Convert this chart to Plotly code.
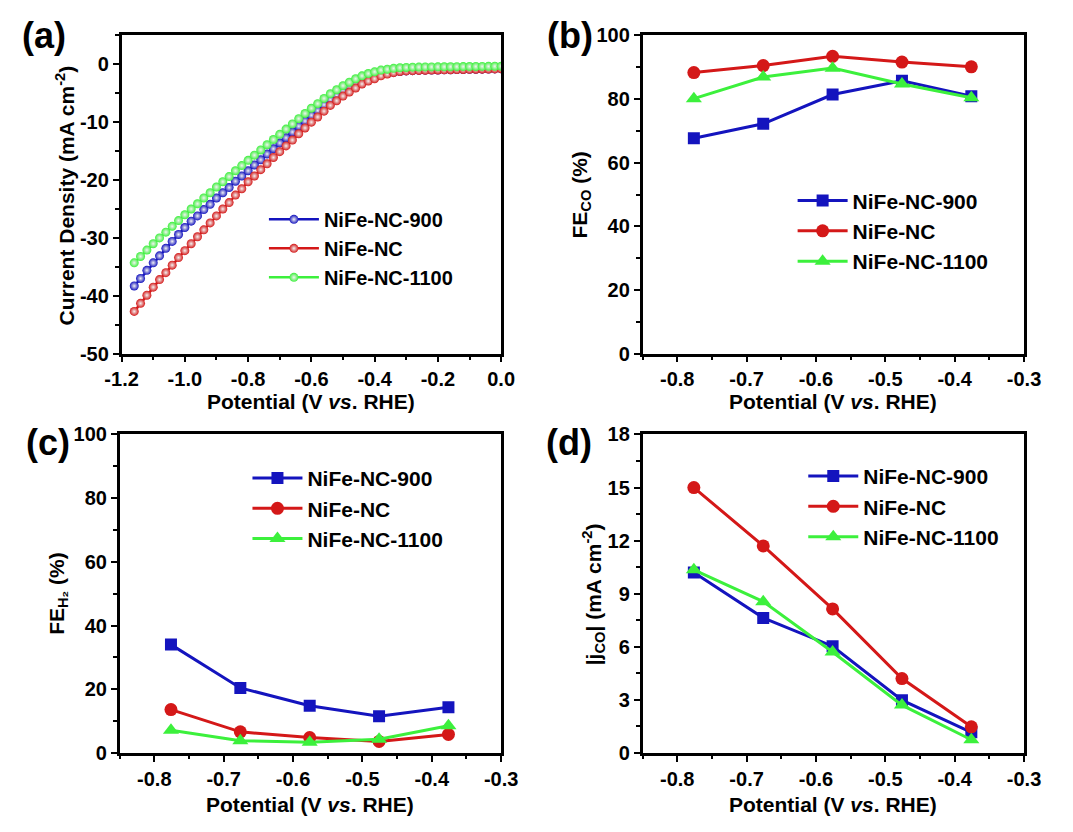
import plotly.graph_objects as go

W, H = 1073, 832
FONT = "Liberation Sans, Arial, sans-serif"

# ---------------- data ----------------
# (a) LSV curves
lsv_potential = [-1.16, -1.14, -1.12, -1.10, -1.08, -1.06, -1.04, -1.02, -1.00, -0.98,
                 -0.96, -0.94, -0.92, -0.90, -0.88, -0.86, -0.84, -0.82, -0.80, -0.78,
                 -0.76, -0.74, -0.72, -0.70, -0.68, -0.66, -0.64, -0.62, -0.60, -0.58,
                 -0.56, -0.54, -0.52, -0.50, -0.48, -0.46, -0.44, -0.42, -0.40, -0.38,
                 -0.36, -0.34, -0.32, -0.30, -0.28, -0.26, -0.24, -0.22, -0.20, -0.18,
                 -0.16, -0.14, -0.12, -0.10, -0.08, -0.06, -0.04, -0.02, 0.00]
lsv_900 = [-38.3, -37.0, -35.6, -34.3, -33.1, -31.8, -30.6, -29.4, -28.2, -27.1,
           -26.2, -25.1, -24.2, -23.1, -22.2, -21.3, -20.2, -19.3, -18.4, -17.4,
           -16.5, -15.5, -14.6, -13.6, -12.7, -11.7, -10.7, -9.8, -8.8, -8.0,
           -7.0, -6.1, -5.4, -4.6, -4.0, -3.4, -2.9, -2.5, -2.2, -1.8,
           -1.55, -1.4, -1.25, -1.15, -1.1, -1.05, -1.02, -1.0, -0.98, -0.96,
           -0.94, -0.92, -0.9, -0.88, -0.86, -0.84, -0.82, -0.8, -0.78]
lsv_nc = [-42.7, -41.3, -39.9, -38.5, -37.2, -36.0, -34.7, -33.4, -32.2, -31.0,
          -29.8, -28.6, -27.4, -26.2, -25.0, -23.9, -22.6, -21.5, -20.3, -19.3,
          -18.2, -17.2, -16.1, -15.1, -14.1, -13.1, -12.0, -11.0, -10.0, -9.1,
          -8.1, -7.1, -6.3, -5.5, -4.8, -4.1, -3.4, -2.9, -2.5, -2.0,
          -1.7, -1.45, -1.25, -1.15, -1.1, -1.06, -1.03, -1.0, -0.98, -0.96,
          -0.94, -0.92, -0.9, -0.88, -0.86, -0.84, -0.82, -0.8, -0.78]
lsv_1100 = [-34.3, -33.2, -32.1, -31.0, -30.0, -29.0, -28.0, -27.0, -26.0, -25.0,
            -24.1, -23.1, -22.2, -21.2, -20.3, -19.4, -18.4, -17.5, -16.6, -15.7,
            -14.8, -13.9, -13.0, -12.1, -11.2, -10.3, -9.4, -8.5, -7.6, -6.8,
            -5.9, -5.1, -4.4, -3.7, -3.1, -2.5, -2.0, -1.6, -1.3, -1.0,
            -0.85, -0.7, -0.6, -0.55, -0.5, -0.48, -0.46, -0.45, -0.44, -0.43,
            -0.42, -0.41, -0.40, -0.39, -0.38, -0.37, -0.36, -0.34, -0.32]

# (b)-(d) potentiostatic data
potential = [-0.776, -0.676, -0.576, -0.476, -0.376]
fe_co_900 = [67.7, 72.2, 81.4, 85.7, 80.9]
fe_co_nc = [88.3, 90.5, 93.4, 91.6, 90.1]
fe_co_1100 = [80.1, 86.9, 89.7, 84.7, 80.4]
fe_h2_900 = [34.0, 20.4, 14.8, 11.5, 14.3]
fe_h2_nc = [13.6, 6.6, 4.8, 3.6, 5.8]
fe_h2_1100 = [7.1, 3.8, 3.3, 4.3, 8.5]
j_co_900 = [10.2, 7.63, 6.03, 2.98, 1.16]
j_co_nc = [15.0, 11.7, 8.14, 4.2, 1.47]
j_co_1100 = [10.35, 8.55, 5.7, 2.7, 0.74]

# tick labels
xa_ticks = [-1.2, -1.0, -0.8, -0.6, -0.4, -0.2, 0.0]
xa_labels = ["-1.2", "-1.0", "-0.8", "-0.6", "-0.4", "-0.2", "0.0"]
ya_ticks = [-50, -40, -30, -20, -10, 0]
ya_labels = ["-50", "-40", "-30", "-20", "-10", "0"]
xb_ticks = [-0.8, -0.7, -0.6, -0.5, -0.4, -0.3]
xb_labels = ["-0.8", "-0.7", "-0.6", "-0.5", "-0.4", "-0.3"]
fe_ticks = [0, 20, 40, 60, 80, 100]
fe_labels = ["0", "20", "40", "60", "80", "100"]
j_ticks = [0, 3, 6, 9, 12, 15, 18]
j_labels = ["0", "3", "6", "9", "12", "15", "18"]

names = ["NiFe-NC-900", "NiFe-NC", "NiFe-NC-1100"]
colors = ["#1414BE", "#D41818", "#3CF03C"]
symbols = ["square", "circle", "triangle-up"]
sizes = [12, 13, 14]

# ---------------- layout geometry (pixels) ----------------
boxes = {
    "a": (108, 500, 25, 352),
    "b": (646, 1040, 25, 352),
    "c": (106, 500, 435, 762),
    "d": (646, 1040, 435, 762),
}
def xd(x0, x1):
    return [x0 / W, x1 / W]
def yd(y0, y1):
    return [1 - y1 / H, 1 - y0 / H]

fig = go.Figure()

# (a)
for nm, col, ys in zip(names, colors, [lsv_900, lsv_nc, lsv_1100]):
    fig.add_trace(go.Scatter(
        x=lsv_potential, y=ys, name=nm, mode="lines+markers",
        xaxis="x", yaxis="y", legend="legend",
        line=dict(color=col, width=2.5),
        marker=dict(symbol="circle", size=9, color=col,
                    gradient=dict(type="radial", color="#f2f2f2"),
                    line=dict(width=0)),
    ))

panels = [("x2", "y2", "legend2", [fe_co_900, fe_co_nc, fe_co_1100]),
          ("x3", "y3", "legend3", [fe_h2_900, fe_h2_nc, fe_h2_1100]),
          ("x4", "y4", "legend4", [j_co_900, j_co_nc, j_co_1100])]
for xa, ya, lg, series in panels:
    for nm, col, sym, sz, ys in zip(names, colors, symbols, sizes, series):
        fig.add_trace(go.Scatter(
            x=potential, y=ys, name=nm, mode="lines+markers",
            xaxis=xa, yaxis=ya, legend=lg,
            line=dict(color=col, width=3),
            marker=dict(symbol=sym, size=sz, color=col, line=dict(width=0)),
        ))

tickfont = dict(family=FONT, size=20, color="black", weight="bold")

def axis(domain, rng, tickvals, ticktext, minor_tick0, minor_dtick, anchor):
    return dict(domain=domain, range=rng, anchor=anchor,
                tickmode="array", tickvals=tickvals, ticktext=ticktext,
                showline=True, linecolor="black", linewidth=2.5, mirror=True,
                ticks="outside", ticklen=6, tickwidth=2, tickcolor="black",
                showgrid=False, zeroline=False, tickfont=tickfont,
                minor=dict(ticks="outside", ticklen=3.5, tickwidth=2,
                           tickcolor="black", tickmode="linear",
                           tick0=minor_tick0, dtick=minor_dtick, showgrid=False))

ba, bb, bc, bd = boxes["a"], boxes["b"], boxes["c"], boxes["d"]
fig.update_layout(
    width=W, height=H, margin=dict(l=0, r=0, t=0, b=0),
    paper_bgcolor="white", plot_bgcolor="white",
    font=dict(family=FONT, color="black"),
    xaxis=axis(xd(ba[0], ba[1]), [-1.2, 0.0], xa_ticks, xa_labels, -1.2, 0.1, "y"),
    yaxis=axis(yd(ba[2], ba[3]), [-50, 5], ya_ticks, ya_labels, 0, 5, "x"),
    xaxis2=axis(xd(bb[0], bb[1]), [-0.85, -0.3], xb_ticks, xb_labels, -0.8, 0.05, "y2"),
    yaxis2=axis(yd(bb[2], bb[3]), [0, 100], fe_ticks, fe_labels, 0, 10, "x2"),
    xaxis3=axis(xd(bc[0], bc[1]), [-0.85, -0.3], xb_ticks, xb_labels, -0.8, 0.05, "y3"),
    yaxis3=axis(yd(bc[2], bc[3]), [0, 100], fe_ticks, fe_labels, 0, 10, "x3"),
    xaxis4=axis(xd(bd[0], bd[1]), [-0.85, -0.3], xb_ticks, xb_labels, -0.8, 0.05, "y4"),
    yaxis4=axis(yd(bd[2], bd[3]), [0, 18], j_ticks, j_labels, 0, 1.5, "x4"),
    showlegend=True,
)

def legend_cfg(xpx, ypx, size):
    return dict(x=xpx / W, y=1 - ypx / H, xanchor="left", yanchor="top",
                bgcolor="rgba(0,0,0,0)", borderwidth=0, itemwidth=50,
                font=dict(family=FONT, size=size, color="black", weight="bold"),
                tracegroupgap=0)

fig.update_layout(
    legend=legend_cfg(255, 194, 20),
    legend2=legend_cfg(801, 174, 21),
    legend3=legend_cfg(238, 459, 21),
    legend4=legend_cfg(812, 457, 21),
)

ann = []
# panel labels
for txt, xp, yp in [("(a)", 28, 25), ("(b)", 571, 25), ("(c)", 32, 443), ("(d)", 570, 443)]:
    ann.append(dict(text=txt, x=xp / W, y=1 - yp / H, xref="paper", yref="paper",
                    xanchor="center", yanchor="middle", showarrow=False,
                    font=dict(family=FONT, size=36, color="black", weight="bold")))
# x titles
xt = "Potential (V <i>vs</i>. RHE)"
for xp, yp in [(304, 401), (843, 401), (303, 815), (843, 815)]:
    ann.append(dict(text=xt, x=xp / W, y=1 - yp / H, xref="paper", yref="paper",
                    xanchor="center", yanchor="middle", showarrow=False,
                    font=dict(family=FONT, size=21, color="black", weight="bold")))
# y titles
for txt, xp, yp in [("Current Density (mA cm<sup>-2</sup>)", 50, 189),
                    ("FE<sub>CO</sub> (%)", 582, 189),
                    ("FE<sub>H₂</sub> (%)", 42, 599),
                    ("|j<sub>CO</sub>| (mA cm<sup>-2</sup>)", 595, 599)]:
    ann.append(dict(text=txt, x=xp / W, y=1 - yp / H, xref="paper", yref="paper",
                    xanchor="center", yanchor="middle", showarrow=False, textangle=-90,
                    font=dict(family=FONT, size=21, color="black", weight="bold")))
fig.update_layout(annotations=ann)

fig.write_html("out.html")
